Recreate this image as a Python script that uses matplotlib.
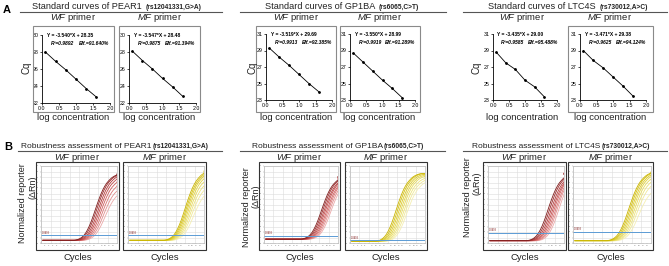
import numpy as np
import matplotlib
matplotlib.use('Agg')
import matplotlib.pyplot as plt
from matplotlib.patches import Rectangle
from matplotlib.lines import Line2D
from matplotlib.ticker import FormatStrFormatter

plt.rcParams['font.family'] = 'Liberation Sans'
plt.rcParams['mathtext.fontset'] = 'custom'
plt.rcParams['mathtext.rm'] = 'Liberation Sans'
plt.rcParams['mathtext.it'] = 'Liberation Sans:italic'

# ---------------- data ----------------
genes = ['PEAR1', 'GP1BA', 'LTC4S']
snps = ['(rs12041331,G>A)', '(rs6065,C>T)', '(rs730012,A>C)']
primers = ['WF', 'MF']

# standard curves (A)
log_conc = [0.1, 0.4, 0.7, 1.0, 1.3, 1.6]
cq_pear1_wf = [28.0, 26.9, 25.9, 24.8, 23.7, 22.7]
cq_pear1_mf = [28.1, 27.0, 26.0, 24.9, 23.9, 22.8]
cq_gp1ba_wf = [29.3, 28.2, 27.2, 26.1, 25.0, 24.0]
cq_gp1ba_mf = [28.7, 27.6, 26.5, 25.4, 24.4, 23.3]
cq_ltc4s_wf = [28.8, 27.5, 26.7, 25.4, 24.6, 23.4]
cq_ltc4s_mf = [29.0, 27.8, 26.9, 25.8, 24.7, 23.5]
cq_ymin = [22, 22, 23, 23, 23, 23]
equations = ['Y = -3.540*X + 28.35', 'Y = -3.547*X + 28.48',
             'Y = -3.519*X + 29.69', 'Y = -3.550*X + 28.99',
             'Y = -3.435*X + 29.00', 'Y = -3.471*X + 29.38']
r2_values = ['0.9892', '0.9875', '0.9913', '0.9919', '0.9585', '0.9625']
eff_values = ['91.640%', '91.394%', '92.385%', '91.289%', '95.488%', '94.124%']

# amplification plots (B): cycle at which each curve leaves baseline, plateau height
first_cycle, last_cycle = 1, 40
rise_profile = [0.0, 0.006, 0.014, 0.027, 0.046, 0.073, 0.11, 0.16, 0.22, 0.29,
                0.37, 0.455, 0.54, 0.62, 0.695, 0.76, 0.815, 0.86, 0.895, 0.925,
                0.95, 0.968, 0.982, 0.992, 1.0]
onset_pear1_wf = [17.5, 18.2, 19.0, 19.7, 20.4, 21.1, 21.8, 22.6]
plateau_pear1_wf = [0.86, 0.86, 0.85, 0.83, 0.80, 0.76, 0.71, 0.66]
onset_pear1_mf = [19.0, 19.6, 20.2, 20.8, 21.4, 22.0, 22.6, 23.4]
plateau_pear1_mf = [0.90, 0.89, 0.88, 0.86, 0.83, 0.79, 0.74, 0.68]
onset_gp1ba_wf = [20.0, 20.7, 21.4, 22.1, 22.8, 23.5, 24.2, 25.0]
plateau_gp1ba_wf = [0.81, 0.81, 0.80, 0.80, 0.79, 0.79, 0.78, 0.77]
onset_gp1ba_mf = [13.5, 14.3, 15.1, 15.9, 16.7, 17.5, 18.3, 19.2]
plateau_gp1ba_mf = [0.88, 0.88, 0.87, 0.86, 0.85, 0.83, 0.81, 0.79]
onset_ltc4s_wf = [20.5, 21.3, 22.1, 22.9, 23.7, 24.5, 25.3, 26.2]
plateau_ltc4s_wf = [0.87, 0.87, 0.86, 0.86, 0.87, 0.87, 0.88, 0.88]
onset_ltc4s_mf = [17.5, 18.2, 18.9, 19.6, 20.3, 21.0, 21.7, 22.5]
plateau_ltc4s_mf = [0.89, 0.89, 0.88, 0.87, 0.85, 0.82, 0.78, 0.70]
baselines = [0.035, 0.035, 0.05, 0.02, 0.03, 0.03]
thresholds = [0.10, 0.10, 0.094, 0.034, 0.136, 0.14]

wf_colors = ['#7f1d1d', '#9b2a2a', '#b23a3a', '#c24848', '#cf5c5c', '#d97474', '#e28e8e', '#ebaaaa']
mf_colors = ['#c9b400', '#d4c010', '#dccb2a', '#e2d444', '#e8dc60', '#ede47c', '#f1ea98', '#f5efb3']

# ---------------- figure helpers (pixel layout) ----------------
W, H = 669, 266
fig = plt.figure(figsize=(W / 100, H / 100), dpi=100)


def px_axes(l, t, r, b):
    return fig.add_axes([l / W, 1 - b / H, (r - l) / W, (b - t) / H])


def px_text(x, y, s, **kw):
    return fig.text(x / W, 1 - y / H, s, **kw)


def px_rect(l, t, r, b, color):
    fig.add_artist(Rectangle((l / W, 1 - b / H), (r - l) / W, (b - t) / H,
                             transform=fig.transFigure, fill=False, ec=color, lw=0.8))


def px_hline(x0, x1, y):
    fig.add_artist(Line2D([x0 / W, x1 / W], [1 - y / H, 1 - y / H],
                          transform=fig.transFigure, color='#555555', lw=0.8))


def group_title(x, y, main, sub, size):
    t = px_text(x, y, main, fontsize=size, va='baseline', color='#222222')
    bb = t.get_window_extent(fig.canvas.get_renderer())
    fig.text(bb.x1 / fig.bbox.width + 1 / W, 1 - y / H, sub, fontsize=4.8,
             fontweight='bold', va='baseline', color='#222222')


def std_panel(i, box, frame, cq):
    if frame is not None:
        px_rect(*frame, '#8a8a8a')
    ax = px_axes(*box)
    ax.plot(log_conc, cq, color='black', lw=0.6, marker='o', ms=1.0)
    ax.set_xlim(0, 2)
    ax.set_ylim(cq_ymin[i], cq_ymin[i] + 8)
    ax.set_xticks([0, 0.5, 1.0, 1.5, 2.0])
    ax.set_yticks(np.arange(cq_ymin[i], cq_ymin[i] + 9, 2))
    ax.xaxis.set_major_formatter(FormatStrFormatter('%.1f'))
    for s in ['top', 'right']:
        ax.spines[s].set_visible(False)
    for s in ['left', 'bottom']:
        ax.spines[s].set_linewidth(0.6)
    ax.tick_params(labelsize=3.8, length=1.5, width=0.5, pad=1)
    ax.text(0.07, 1.0, equations[i], transform=ax.transAxes, fontsize=3.6,
            fontweight='bold', va='center')
    ax.text(0.13, 0.87, 'R²=' + r2_values[i], transform=ax.transAxes, fontsize=3.6,
            fontweight='bold', fontstyle='italic', va='center')
    ax.text(0.54, 0.87, 'Eff.=' + eff_values[i], transform=ax.transAxes, fontsize=3.6,
            fontweight='bold', fontstyle='italic', va='center')
    return ax


def amp_panel(i, frame, onsets, plateaus, colors):
    l, t, r, b = frame
    px_rect(l, t, r, b, '#333333')
    ax = px_axes(l + 5, t + 4, r - 2, b - 7)
    base = baselines[i]
    # later curves first so the darker, earlier ones sit on top
    for k in range(len(onsets) - 1, -1, -1):
        xs = np.r_[first_cycle, onsets[k] + np.arange(len(rise_profile)), last_cycle]
        prof = np.r_[0.0, rise_profile, rise_profile[-1]]
        ax.plot(xs, base + plateaus[k] * prof, color=colors[k], lw=0.6)
    ax.axhline(thresholds[i], color='#5b9bd5', lw=0.7)
    ax.text(0.01, thresholds[i] + 0.01, '0.0493', transform=ax.get_yaxis_transform(),
            fontsize=1.8, color='#7a1010', va='bottom')
    ax.set_xlim(0, 40)
    ax.set_ylim(0, 1)
    ax.set_xticks(np.arange(0, 41, 5))
    ax.set_xticks(np.arange(0, 41, 2), minor=True)
    ax.set_xticklabels([])
    ax.set_xticklabels([str(v) for v in range(0, 41, 2)], minor=True)
    yt = np.linspace(0, 1, 15)
    ax.set_yticks(yt)
    ax.set_yticklabels(['%.1f' % (v * 1.4) for v in yt])
    ax.grid(True, which='major', color='#dcdcdc', lw=0.4)
    ax.tick_params(which='both', labelsize=1.6, labelcolor='#777777', length=0.8,
                   width=0.3, color='#999999', pad=0.5)
    for s in ax.spines.values():
        s.set_color('#bbbbbb')
        s.set_linewidth(0.5)
    return ax


# ---------------- panel A ----------------
px_text(3, 13, 'A', fontsize=8, fontweight='bold')
a_titles_x = [32, 265, 488]
a_lines = [(20, 222), (240, 446), (463, 667)]
for g in range(3):
    group_title(a_titles_x[g], 9, 'Standard curves of ' + genes[g] + ' ', snps[g], 6.6)
    px_hline(a_lines[g][0], a_lines[g][1], 12)

std_frames = [(33, 26, 114, 112), (119, 26, 200, 112),
              (256, 26, 336, 112), (340, 26, 420, 112),
              None, (568, 26, 653, 112)]
std_boxes = [(42, 35, 110, 103), (129, 35, 196, 103),
             (266, 34, 332, 100), (350, 34, 415, 100),
             (493, 34, 557, 100), (580, 34, 646, 100)]
std_cq = [cq_pear1_wf, cq_pear1_mf, cq_gp1ba_wf, cq_gp1ba_mf, cq_ltc4s_wf, cq_ltc4s_mf]
cq_label_x = [27, 252, 477]
for i in range(6):
    std_panel(i, std_boxes[i], std_frames[i], std_cq[i])
    l, t, r, b = std_boxes[i]
    cx = (l + r) / 2 - 3
    px_text(cx, 18, r'$\it{' + primers[i % 2] + '}$ primer', fontsize=6.8,
            ha='center', va='center', color='#222222')
    px_text(cx, 117, 'log concentration', fontsize=6.8, ha='center', va='center',
            color='#222222')
for g in range(3):
    px_text(cq_label_x[g], 68, 'Cq', fontsize=7, rotation=90, ha='center',
            va='center', color='#222222')

# ---------------- panel B ----------------
px_text(4, 150, 'B', fontsize=8, fontweight='bold')
b_titles_x = [21, 252, 472]
b_lines = [(18, 222), (240, 445), (463, 667)]
for g in range(3):
    group_title(b_titles_x[g], 148, 'Robustness assessment of ' + genes[g], snps[g], 6.0)
    px_hline(b_lines[g][0], b_lines[g][1], 151)

amp_frames = [(36, 162, 119, 250), (123, 162, 206, 250),
              (259, 162, 340, 250), (345, 162, 427, 250),
              (483, 162, 566, 250), (568, 162, 653, 250)]
amp_onsets = [onset_pear1_wf, onset_pear1_mf, onset_gp1ba_wf, onset_gp1ba_mf,
              onset_ltc4s_wf, onset_ltc4s_mf]
amp_plateaus = [plateau_pear1_wf, plateau_pear1_mf, plateau_gp1ba_wf, plateau_gp1ba_mf,
                plateau_ltc4s_wf, plateau_ltc4s_mf]
for i in range(6):
    colors = wf_colors if i % 2 == 0 else mf_colors
    amp_panel(i, amp_frames[i], amp_onsets[i], amp_plateaus[i], colors)
    l, t, r, b = amp_frames[i]
    cx = (l + r) / 2
    px_text(cx, 157, r'$\it{' + primers[i % 2] + '}$ primer', fontsize=6.8,
            ha='center', va='center', color='#222222')
    px_text(cx, 257, 'Cycles', fontsize=6.8, ha='center', va='center', color='#222222')

ylab_pos = [(23, 203, 33, 187), (247, 207, 256, 196), (468, 197, 477, 183)]
for x1, y1, x2, y2 in ylab_pos:
    px_text(x1, y1, 'Normalized reporter', fontsize=6.5, rotation=90, ha='center',
            va='center', color='#222222')
    px_text(x2, y2, '(ΔRn)', fontsize=6.5, rotation=90, ha='center', va='center',
            color='#222222')

fig.savefig('out.png', dpi=100)
